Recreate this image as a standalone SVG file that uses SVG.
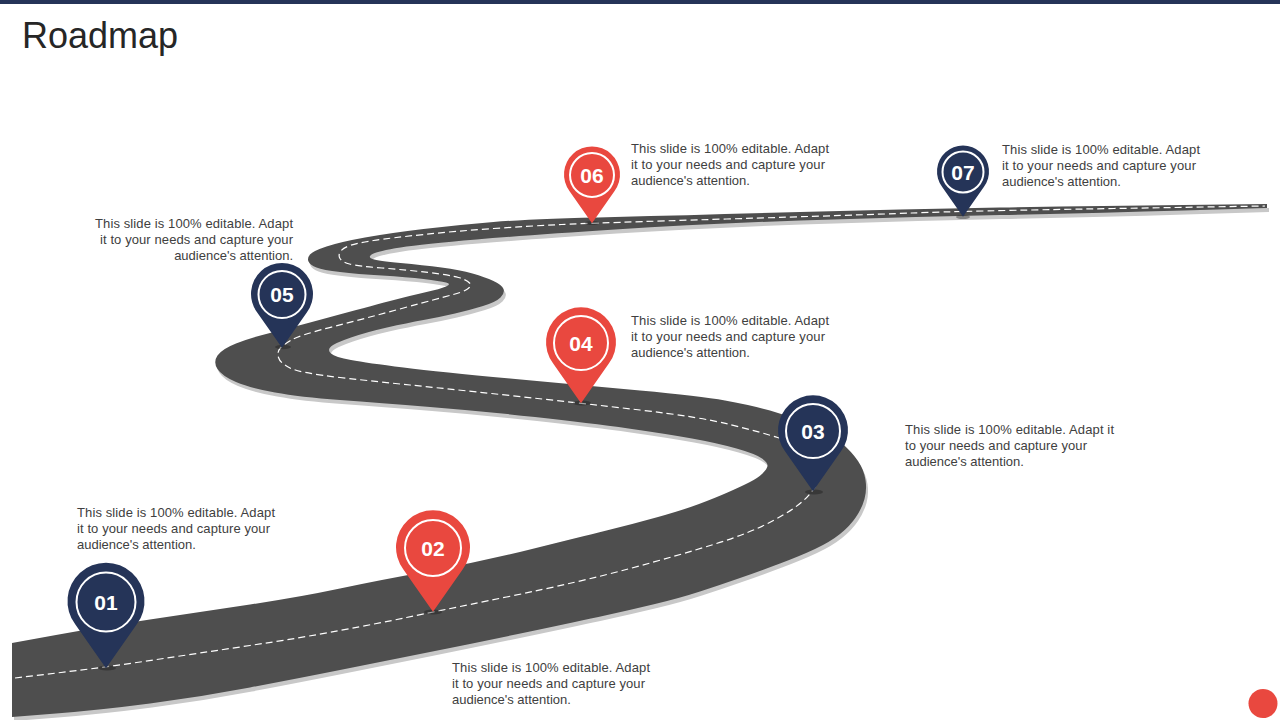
<svg xmlns="http://www.w3.org/2000/svg" xmlns:xlink="http://www.w3.org/1999/xlink" width="1280" height="720" viewBox="0 0 1280 720">
<style>
.navy{fill:#253458}
.red{fill:#E9483F}
.ring{fill:none;stroke:#FFFFFF;stroke-width:2}
.num{font-family:"Liberation Sans",Arial,sans-serif;font-size:21px;font-weight:bold;fill:#FFFFFF;text-anchor:middle}
.body{font-family:"Liberation Sans",Arial,sans-serif;font-size:13px;fill:#404040}
.end{text-anchor:end}
.title{font-family:"Liberation Sans",Arial,sans-serif;font-size:36px;fill:#262626}
.tipshadow{fill:#1a1a1a;opacity:0.4}
</style>
<defs>
<path id="pinShape" d="M0,1.72 L0.8,0.58 A1 1 0 1 0 -0.8,0.58 Z"/>
<path id="roadShape" d="M 12,643 L 56,635 Q 100,627 150,619.5 Q 200,612 250,604.5 Q 300,597 340,588.5 Q 380,580 430,571 Q 480,562 530,549.5 Q 580,537 606.5,530.5 Q 633,524 658,517 Q 683,510 699,504 Q 715,498 727.5,492.5 Q 740,487 749,482.5 Q 758,478 762.5,473.5 Q 767,469 767.5,466 Q 768,463 762,458.5 Q 756,454 736.5,448.5 Q 717,443 692,438.5 Q 667,434 628.5,428.5 Q 590,423 535,417 Q 480,411 430,407 Q 380,403 340,400 Q 300,397 275,392.5 Q 250,388 236,382 Q 222,376 217.5,369 Q 213,362 217.5,355.5 Q 222,349 236,343.5 Q 250,338 270,333 Q 290,328 328.5,317.5 Q 367,307 390,301 Q 413,295 426.5,292 Q 440,289 446,286.5 Q 452,284 446,282.5 Q 440,281 423.5,279 Q 407,277 382,275.5 Q 357,274 340,272 Q 323,270 316.5,267.5 Q 310,265 308.5,261.5 Q 307,258 310,254.5 Q 313,251 326.5,246.5 Q 340,242 365,237.5 Q 390,233 423.5,229 Q 457,225 493.5,222 Q 530,219 615,217 Q 700,215 800,212 Q 900,209 1000,207.5 Q 1100,206 1183.5,205 L 1267,204 L 1267,208 L 1183.5,210.5 Q 1100,213 1000,215 Q 900,217 800,220.5 Q 700,224 615,229.5 Q 530,235 476.5,239.5 Q 423,244 400.5,247.5 Q 378,251 372.5,254 Q 367,257 372.5,259 Q 378,261 400.5,263 Q 423,265 441.5,267.5 Q 460,270 472.5,273.5 Q 485,277 493.5,281 Q 502,285 503.5,289 Q 505,293 500.5,297.5 Q 496,302 483,306 Q 470,310 455,313.5 Q 440,317 423.5,320 Q 407,323 387,327.5 Q 367,332 351,337.5 Q 335,343 331,346.5 Q 327,350 331,353.5 Q 335,357 351,360 Q 367,363 403.5,367.5 Q 440,372 510,378.5 Q 580,385 640,390.5 Q 700,396 725,400.5 Q 750,405 770,410.5 Q 790,416 810,424.5 Q 830,433 841,442.5 Q 852,452 858,461 Q 864,470 865.5,480 Q 867,490 864.5,499 Q 862,508 856,517 Q 850,526 840,534 Q 830,542 815,549 Q 800,556 780,563.5 Q 760,571 740,578 Q 720,585 700,591.5 Q 680,598 655,604 Q 630,610 605,615.5 Q 580,621 530,631.5 Q 480,642 430,652 Q 380,662 340,670 Q 300,678 250,687.5 Q 200,697 150,703.5 Q 100,710 56,713.5 L 12,717 Z"/>
</defs>
<rect x="0" y="0" width="1280" height="720" fill="#FFFFFF"/>
<rect x="0" y="0" width="1280" height="4" fill="#253458"/>
<text x="22" y="48" class="title">Roadmap</text>

<g id="road">
<use xlink:href="#roadShape" href="#roadShape" transform="translate(2,4)" fill="#C8C8C8"/>
<use xlink:href="#roadShape" href="#roadShape" fill="#4E4E4E"/>
<path d="M 15,678 L 61,672.5 Q 107,667 153.5,660 Q 200,653 250,645.5 Q 300,638 340,630.5 Q 380,623 406.5,617.5 Q 433,612 506.5,597 Q 580,582 630,568.5 Q 680,555 715,544 Q 750,533 771.5,521.5 Q 793,510 803,501 Q 813,492 817.5,482 Q 822,472 818.5,463.5 Q 815,455 805,449 Q 795,443 777.5,437.5 Q 760,432 730,424.5 Q 700,417 640,410 Q 580,403 510,395.5 Q 440,388 410,385 Q 380,382 340,377.5 Q 300,373 290,368 Q 280,363 278.5,357.5 Q 277,352 280,348.5 Q 283,345 291.5,340 Q 300,335 333.5,326.5 Q 367,318 403.5,308 Q 440,298 451.5,295 Q 463,292 467.5,289 Q 472,286 469.5,283 Q 467,280 458.5,277.5 Q 450,275 428.5,272.5 Q 407,270 382,268 Q 357,266 349.5,264 Q 342,262 340,258.5 Q 338,255 340.5,251.5 Q 343,248 350,245.5 Q 357,243 373.5,240.5 Q 390,238 423.5,234.5 Q 457,231 493.5,228.5 Q 530,226 561.5,224.5 Q 593,223 726.5,219 Q 860,215 911.5,213 Q 963,211 1114,208.5 L 1265,206" fill="none" stroke="#FFFFFF" stroke-width="1.2" stroke-dasharray="7 4"/>
</g>

<g id="node01">
<ellipse cx="107" cy="668" rx="9" ry="2.5" class="tipshadow"/>
<use xlink:href="#pinShape" href="#pinShape" class="navy" transform="translate(106,602) scale(38.5)"/>
<circle cx="106" cy="602" r="29.5" class="ring"/>
<text x="106" y="609.5" class="num">01</text>
<text class="body"><tspan x="77" y="517" textLength="198" lengthAdjust="spacing">This slide is 100% editable. Adapt</tspan><tspan x="77" y="533" textLength="193" lengthAdjust="spacing">it to your needs and capture your</tspan><tspan x="77" y="549">audience's attention.</tspan></text>
</g>

<g id="node02">
<ellipse cx="433" cy="612" rx="9" ry="2.5" class="tipshadow"/>
<use xlink:href="#pinShape" href="#pinShape" class="red" transform="translate(433,548) scale(37)"/>
<circle cx="433" cy="548" r="28" class="ring"/>
<text x="433" y="555.5" class="num">02</text>
<text class="body"><tspan x="452" y="672" textLength="198" lengthAdjust="spacing">This slide is 100% editable. Adapt</tspan><tspan x="452" y="688" textLength="193" lengthAdjust="spacing">it to your needs and capture your</tspan><tspan x="452" y="704">audience's attention.</tspan></text>
</g>

<g id="node03">
<ellipse cx="814" cy="492" rx="9" ry="2.5" class="tipshadow"/>
<use xlink:href="#pinShape" href="#pinShape" class="navy" transform="translate(813,431) scale(35)"/>
<circle cx="813" cy="431" r="27" class="ring"/>
<text x="813" y="438.5" class="num">03</text>
<text class="body"><tspan x="905" y="434" textLength="209" lengthAdjust="spacing">This slide is 100% editable. Adapt it</tspan><tspan x="905" y="450" textLength="182" lengthAdjust="spacing">to your needs and capture your</tspan><tspan x="905" y="466">audience's attention.</tspan></text>
</g>

<g id="node04">
<ellipse cx="582" cy="403" rx="9" ry="2.5" class="tipshadow"/>
<use xlink:href="#pinShape" href="#pinShape" class="red" transform="translate(581,343) scale(35)"/>
<circle cx="581" cy="343" r="27" class="ring"/>
<text x="581" y="350.5" class="num">04</text>
<text class="body"><tspan x="631" y="325" textLength="198" lengthAdjust="spacing">This slide is 100% editable. Adapt</tspan><tspan x="631" y="341" textLength="194" lengthAdjust="spacing">it to your needs and capture your</tspan><tspan x="631" y="357">audience's attention.</tspan></text>
</g>

<g id="node05">
<ellipse cx="283" cy="347" rx="8" ry="2.2" class="tipshadow"/>
<use xlink:href="#pinShape" href="#pinShape" class="navy" transform="translate(282,294.5) scale(31)"/>
<circle cx="282" cy="294.5" r="23.5" class="ring"/>
<text x="282" y="302" class="num">05</text>
<text class="body end"><tspan x="293" y="228" textLength="198" lengthAdjust="spacing">This slide is 100% editable. Adapt</tspan><tspan x="293" y="244" textLength="193" lengthAdjust="spacing">it to your needs and capture your</tspan><tspan x="293" y="260">audience's attention.</tspan></text>
</g>

<g id="node06">
<ellipse cx="592" cy="223" rx="7" ry="2" class="tipshadow"/>
<use xlink:href="#pinShape" href="#pinShape" class="red" transform="translate(592,175) scale(28)"/>
<circle cx="592" cy="175" r="22" class="ring"/>
<text x="592" y="182.5" class="num">06</text>
<text class="body"><tspan x="631" y="153" textLength="198" lengthAdjust="spacing">This slide is 100% editable. Adapt</tspan><tspan x="631" y="169" textLength="194" lengthAdjust="spacing">it to your needs and capture your</tspan><tspan x="631" y="185">audience's attention.</tspan></text>
</g>

<g id="node07">
<ellipse cx="963" cy="217" rx="7" ry="2" class="tipshadow"/>
<use xlink:href="#pinShape" href="#pinShape" class="navy" transform="translate(963,172) scale(26)"/>
<circle cx="963" cy="172" r="20.5" class="ring"/>
<text x="963" y="179.5" class="num">07</text>
<text class="body"><tspan x="1002" y="154" textLength="198" lengthAdjust="spacing">This slide is 100% editable. Adapt</tspan><tspan x="1002" y="170" textLength="194" lengthAdjust="spacing">it to your needs and capture your</tspan><tspan x="1002" y="186">audience's attention.</tspan></text>
</g>

<circle cx="1263" cy="703.5" r="14.5" fill="#E9483F"/>
</svg>
